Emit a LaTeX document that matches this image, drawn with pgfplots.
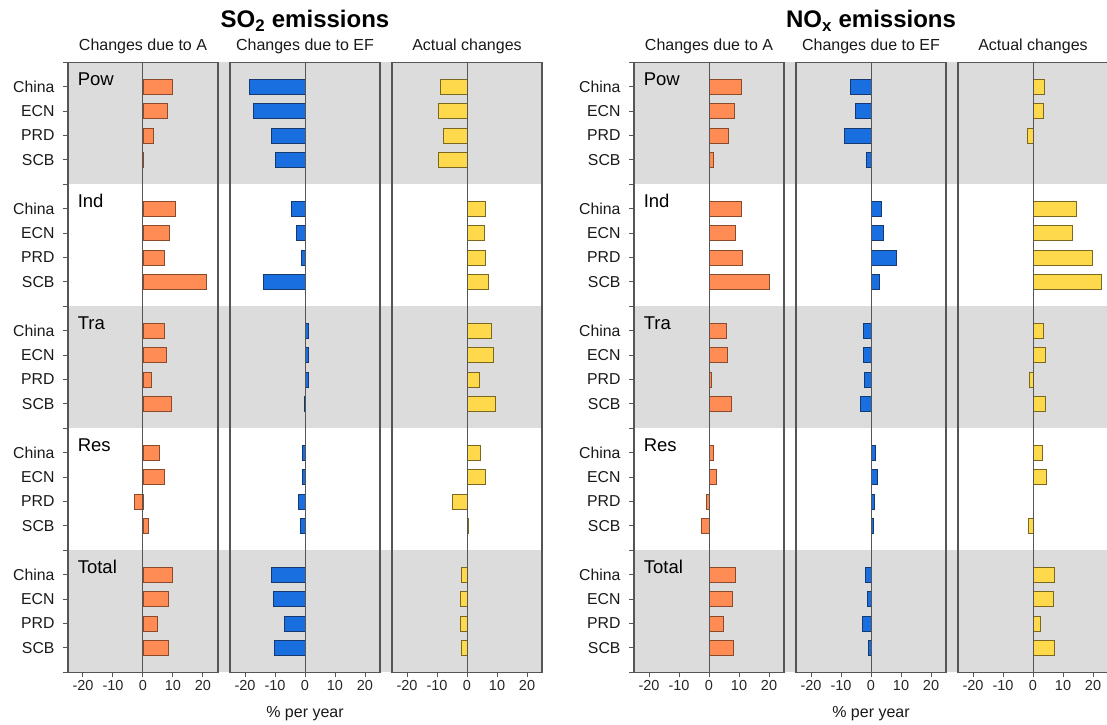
\documentclass[border=0pt]{standalone}
\usepackage{pgfplots}
\pgfplotsset{compat=1.18}
\usepackage{pgfplotstable}
\usepackage{fontspec}
\setmainfont{Liberation Sans}
\definecolor{shadegray}{HTML}{DCDCDC}
\definecolor{axisgray}{HTML}{555555}
\definecolor{ofill}{HTML}{FF8C55}
\definecolor{oedge}{HTML}{8A4A2C}
\definecolor{bfill}{HTML}{1A6FE0}
\definecolor{bedge}{HTML}{163A6E}
\definecolor{yfill}{HTML}{FDD94B}
\definecolor{yedge}{HTML}{7A6820}

\pgfplotstableread{
y A EF Act
0 9.8 -18.4 -8.7
1 8.0 -17.3 -9.5
2 3.5 -11.3 -8.0
3 0.3 -9.8 -9.5
5 10.8 -4.4 6.3
6 8.7 -3.0 5.7
7 7.2 -1.3 6.0
8 21.0 -13.8 7.1
10 7.3 1.2 8.3
11 7.9 1.2 8.8
12 2.8 1.2 4.0
13 9.6 -0.3 9.6
15 5.4 -0.7 4.5
16 7.2 -1.0 6.2
17 -2.7 -2.1 -4.8
18 1.9 -1.5 0.6
20 9.9 -11.3 -1.9
21 8.4 -10.5 -2.3
22 4.7 -7.0 -2.3
23 8.5 -10.1 -1.9
}\sotwo

\pgfplotstableread{
y A EF Act
0 10.7 -6.7 3.8
1 8.6 -5.1 3.6
2 6.6 -8.7 -2.0
3 1.4 -1.5 nan
5 10.9 3.5 14.5
6 8.8 4.2 13.1
7 11.1 8.6 19.7
8 20.0 2.7 22.8
10 5.7 -2.4 3.6
11 6.3 -2.4 4.1
12 0.9 -2.2 -1.3
13 7.5 -3.5 4.2
15 1.4 1.5 3.1
16 2.5 2.0 4.5
17 -0.7 1.2 0.3
18 -2.5 0.8 -1.5
20 8.8 -2.0 7.1
21 7.9 -1.2 6.8
22 4.9 -2.7 2.4
23 8.0 -0.8 7.3
}\nox

\pgfplotsset{
 panel/.style={
  width=150pt, height=610pt, scale only axis, anchor=south west,
  xmin=-25, xmax=25, ymin=-1, ymax=24, y dir=reverse,
  xbar, bar width=15pt,
  clip=false, axis on top,
  axis line style={draw=axisgray, line width=1.1pt},
  xtick={-20,-10,0,10,20}, xticklabels={-20,-10,0,10,20},
  xtick pos=left, ytick pos=left, tick align=outside,
  major tick length=5pt,
  every tick/.style={draw=axisgray, line width=1pt},
  xticklabel style={font=\fontsize{14.5}{16}\selectfont, text=black!85},
  ytick=\empty,
 },
 first/.style={
  ytick={0,1,2,3,5,6,7,8,10,11,12,13,15,16,17,18,20,21,22,23},
  yticklabels={China,ECN,PRD,SCB,China,ECN,PRD,SCB,China,ECN,PRD,SCB,China,ECN,PRD,SCB,China,ECN,PRD,SCB},
  extra y ticks={-1,4,9,14,19,24}, extra y tick labels={},
  yticklabel style={font=\fontsize{15.8}{19}\selectfont, text=black!90, xshift=-5pt},
 },
}
\tikzset{
 obar/.style={fill=ofill, draw=oedge, line width=0.9pt},
 bbar/.style={fill=bfill, draw=bedge, line width=0.9pt},
 yelbar/.style={fill=yfill, draw=yedge, line width=0.9pt},
 sect/.style={anchor=base west, inner sep=0pt, font=\fontsize{18.5}{22}\selectfont},
 coltitle/.style={font=\fontsize{16}{19}\selectfont, text=black!90},
 gtitle/.style={font=\bfseries\fontsize{24}{28}\selectfont},
}

\newcommand{\zeroline}{\draw[axisgray, line width=1pt] (axis cs:0,-1) -- (axis cs:0,24);}
\newcommand{\shading}{%
  \fill[shadegray] (axis cs:-25,-1) rectangle (axis cs:133,4);
  \fill[shadegray] (axis cs:-25,9) rectangle (axis cs:133,14);
  \fill[shadegray] (axis cs:-25,19) rectangle (axis cs:133,24);
  \node[sect] at (axis cs:-21.8,-0.05) {Pow};
  \node[sect] at (axis cs:-21.8,4.95) {Ind};
  \node[sect] at (axis cs:-21.8,9.95) {Tra};
  \node[sect] at (axis cs:-21.8,14.95) {Res};
  \node[sect] at (axis cs:-21.8,19.95) {Total};
}

\begin{document}
\begin{tikzpicture}
\useasboundingbox (0pt,0pt) rectangle (1107pt,724pt);

% ---------- SO2 ----------
\begin{axis}[panel, first, at={(68pt,51.7pt)}]
  \shading
  \addplot[obar] table[x=A, y=y] {\sotwo};
  \zeroline
  \node[coltitle] at (rel axis cs:0.5,1) [yshift=15.5pt] {Changes due to A};
\end{axis}
\begin{axis}[panel, at={(230pt,51.7pt)}]
  \addplot[bbar] table[x=EF, y=y] {\sotwo};
  \zeroline
  \node[coltitle] at (rel axis cs:0.5,1) [yshift=15.5pt] {Changes due to EF};
  \node[gtitle] at (rel axis cs:0.5,1) [yshift=41.5pt] {SO\textsubscript{2} emissions};
  \node[font=\fontsize{16}{19}\selectfont, text=black!90] at (rel axis cs:0.5,0) [yshift=-41pt] {\% per year};
\end{axis}
\begin{axis}[panel, at={(392pt,51.7pt)}]
  \addplot[yelbar] table[x=Act, y=y] {\sotwo};
  \zeroline
  \node[coltitle] at (rel axis cs:0.5,1) [yshift=15.5pt] {Actual changes};
\end{axis}

% ---------- NOx ----------
\begin{axis}[panel, first, at={(634pt,51.7pt)}]
  \shading
  \addplot[obar] table[x=A, y=y] {\nox};
  \zeroline
  \node[coltitle] at (rel axis cs:0.5,1) [yshift=15.5pt] {Changes due to A};
\end{axis}
\begin{axis}[panel, at={(796pt,51.7pt)}]
  \addplot[bbar] table[x=EF, y=y] {\nox};
  \zeroline
  \node[coltitle] at (rel axis cs:0.5,1) [yshift=15.5pt] {Changes due to EF};
  \node[gtitle] at (rel axis cs:0.5,1) [yshift=41.5pt] {NO\textsubscript{x} emissions};
  \node[font=\fontsize{16}{19}\selectfont, text=black!90] at (rel axis cs:0.5,0) [yshift=-41pt] {\% per year};
\end{axis}
\begin{axis}[panel, at={(958pt,51.7pt)}]
  \addplot[yelbar] table[x=Act, y=y] {\nox};
  \zeroline
  \node[coltitle] at (rel axis cs:0.5,1) [yshift=15.5pt] {Actual changes};
\end{axis}
\end{tikzpicture}
\end{document}
